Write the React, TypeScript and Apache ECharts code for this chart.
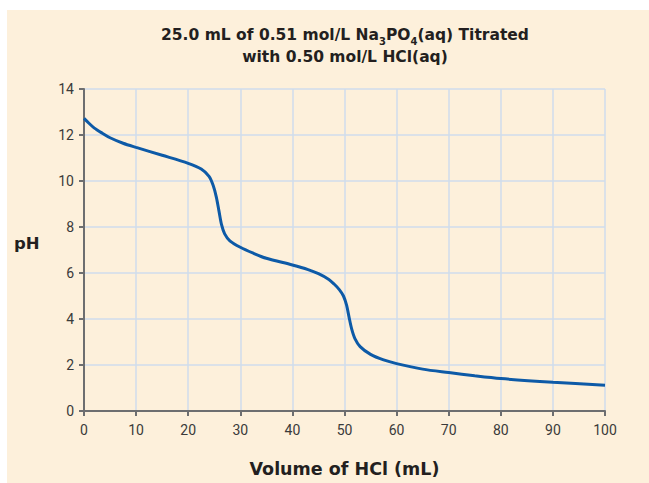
import React, { useEffect, useRef } from "react";
import * as echarts from "echarts";

const volumes = [0, 1, 2, 3.5, 5, 7.5, 10, 15, 20, 22.5, 24, 24.8, 25.4, 25.9, 26.4, 27, 28, 30, 32.5, 35, 40, 43, 45, 47, 48, 49, 49.8, 50.4, 50.9, 51.4, 52, 53, 55, 57.5, 60, 65, 70, 75, 80, 90, 100];
const phValues = [12.72, 12.5, 12.3, 12.08, 11.88, 11.64, 11.46, 11.12, 10.77, 10.52, 10.2, 9.8, 9.3, 8.7, 8.1, 7.7, 7.4, 7.12, 6.86, 6.64, 6.35, 6.15, 5.97, 5.72, 5.52, 5.28, 5.0, 4.6, 4.05, 3.55, 3.15, 2.8, 2.46, 2.22, 2.06, 1.82, 1.67, 1.53, 1.41, 1.25, 1.12];

const titleLine1 = "25.0 mL of 0.51 mol/L Na{sub|3}PO{sub|4}(aq) Titrated";
const titleLine2 = "with 0.50 mol/L HCl(aq)";
const xAxisName = "Volume of HCl (mL)";
const yAxisName = "pH";

const FONT = "Roboto, 'Liberation Sans', sans-serif";
const BOLD_FONT = "'DejaVu Sans', Roboto, sans-serif";

export default function App() {
  const ref = useRef<HTMLDivElement>(null);
  useEffect(() => {
    if (!ref.current) return;
    const chart = echarts.init(ref.current, null, { renderer: "svg" });
    const data = volumes.map((v, i) => [v, phValues[i]]);
    const titleStyle = {
      fontFamily: BOLD_FONT,
      fontSize: 15.5,
      fontWeight: "bold",
      color: "#231f20",
      lineHeight: 22,
      rich: {
        sub: {
          fontFamily: BOLD_FONT,
          fontSize: 10,
          fontWeight: "bold",
          color: "#231f20",
          verticalAlign: "bottom",
          lineHeight: 12,
        },
      },
    };
    chart.setOption({
      animation: false,
      backgroundColor: "#fdf0db",
      title: [
        { text: titleLine1, left: 338, top: 14, textAlign: "center", padding: 0, textStyle: titleStyle },
        { text: titleLine2, left: 338, top: 36, textAlign: "center", padding: 0, textStyle: titleStyle },
      ],
      graphic: [
        {
          type: "text",
          left: 7,
          top: 225,
          style: {
            text: yAxisName,
            fontFamily: BOLD_FONT,
            fontSize: 16.5,
            fontWeight: "bold",
            fill: "#231f20",
          },
        },
      ],
      grid: { left: 77, right: 44, top: 79, bottom: 71 },
      xAxis: {
        type: "value",
        min: 0,
        max: 100,
        interval: 10,
        name: xAxisName,
        nameLocation: "middle",
        nameGap: 49,
        nameTextStyle: { fontFamily: BOLD_FONT, fontSize: 17.5, fontWeight: "bold", color: "#231f20" },
        axisLine: { show: true, lineStyle: { color: "#6d6e70", width: 2 } },
        axisTick: { show: true, length: 5, lineStyle: { color: "#6d6e70", width: 2 } },
        axisLabel: { fontFamily: FONT, fontSize: 14, color: "#3a3a3a", margin: 12 },
        splitLine: { show: true, lineStyle: { color: "#cfdcec", width: 1.5 } },
      },
      yAxis: {
        type: "value",
        min: 0,
        max: 14,
        interval: 2,
        axisLine: { show: true, lineStyle: { color: "#6d6e70", width: 2 } },
        axisTick: { show: true, length: 5, lineStyle: { color: "#6d6e70", width: 2 } },
        axisLabel: { fontFamily: FONT, fontSize: 14, color: "#3a3a3a", margin: 10 },
        splitLine: { show: true, lineStyle: { color: "#cfdcec", width: 1.5 } },
      },
      series: [
        {
          type: "line",
          data,
          smooth: 0.3,
          showSymbol: false,
          lineStyle: { color: "#0d5aa7", width: 3 },
          z: 5,
        },
      ],
    });
    return () => chart.dispose();
  }, []);
  return (
    <div style={{ position: "absolute", left: 0, top: 0, width: 649, height: 483, background: "#ffffff" }}>
      <div ref={ref} style={{ position: "absolute", left: 7, top: 10, width: 642, height: 473 }} />
    </div>
  );
}
